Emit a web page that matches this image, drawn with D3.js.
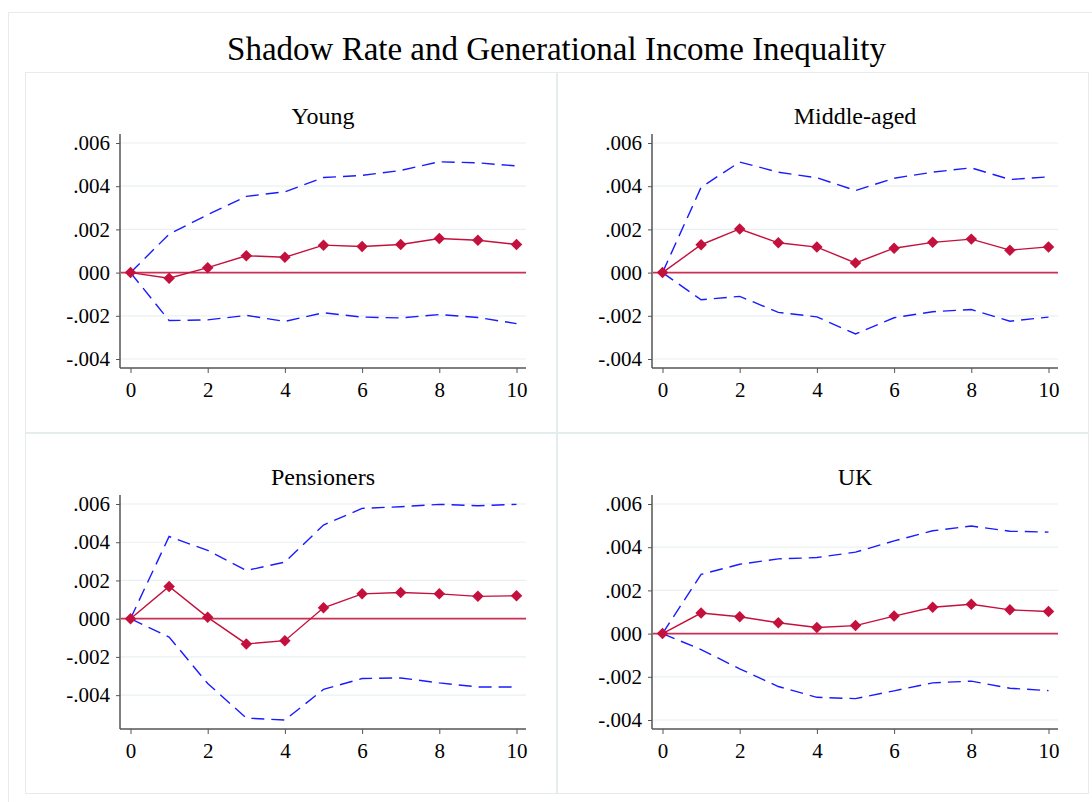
<!DOCTYPE html>
<html>
<head>
<meta charset="utf-8">
<script src="https://cdn.jsdelivr.net/npm/d3@7"></script>
<style>
  body { margin: 0; background: #fff; }
  svg text { font-family: "Liberation Serif", "Times New Roman", serif; fill: #000; }
</style>
</head>
<body>
<div id="chart"></div>
<script>
// response horizon
const steps = [0, 1, 2, 3, 4, 5, 6, 7, 8, 9, 10];

const panelNames = ["Young", "Middle-aged", "Pensioners", "UK"];

const youngIrf   = [0, -0.00026, 0.00023, 0.00078, 0.00071, 0.00127, 0.00121, 0.0013, 0.00158, 0.0015, 0.0013];
const youngUpper = [0, 0.00178, 0.00268, 0.00353, 0.00374, 0.0044, 0.0045, 0.00473, 0.00513, 0.00508, 0.00494];
const youngLower = [0, -0.00222, -0.00219, -0.00198, -0.00226, -0.00186, -0.00206, -0.0021, -0.00194, -0.00208, -0.00236];

const middleIrf   = [0, 0.00129, 0.00202, 0.00138, 0.00118, 0.00045, 0.00113, 0.0014, 0.00155, 0.00104, 0.00119];
const middleUpper = [0, 0.00395, 0.00512, 0.00465, 0.00439, 0.0038, 0.00437, 0.00465, 0.00485, 0.00431, 0.00443];
const middleLower = [0, -0.00126, -0.0011, -0.00184, -0.00205, -0.00284, -0.00209, -0.00181, -0.00171, -0.00225, -0.00206];

const pensIrf   = [0, 0.00169, 0.00007, -0.00132, -0.00115, 0.00057, 0.0013, 0.00137, 0.0013, 0.00117, 0.0012];
const pensUpper = [0, 0.0043, 0.00357, 0.00252, 0.00296, 0.0049, 0.00577, 0.00586, 0.00598, 0.00591, 0.00598];
const pensLower = [0, -0.00096, -0.00339, -0.0052, -0.0053, -0.0037, -0.00313, -0.0031, -0.00336, -0.00357, -0.00357];

const ukIrf   = [0, 0.00095, 0.00078, 0.0005, 0.00028, 0.00037, 0.00081, 0.00122, 0.00136, 0.0011, 0.00102];
const ukUpper = [0, 0.00274, 0.00321, 0.00346, 0.00352, 0.00377, 0.00429, 0.00476, 0.00498, 0.00474, 0.0047];
const ukLower = [0, -0.00074, -0.00163, -0.00245, -0.00295, -0.00301, -0.00265, -0.00228, -0.0022, -0.00253, -0.00264];

const yTicks = [-0.004, -0.002, 0, 0.002, 0.004, 0.006];
const yTickLabels = ["-.004", "-.002", "000", ".002", ".004", ".006"];
const xTicks = [0, 2, 4, 6, 8, 10];

const panels = [
    { name: panelNames[0], irf: youngIrf, hi: youngUpper, lo: youngLower },
    { name: panelNames[1], irf: middleIrf, hi: middleUpper, lo: middleLower },
    { name: panelNames[2], irf: pensIrf, hi: pensUpper, lo: pensLower },
    { name: panelNames[3], irf: ukIrf, hi: ukUpper, lo: ukLower }
];

const width = 1092, height = 802;
const red = "#c4103c", blue = "#1a1aff";
const serif = '"Liberation Serif", "Times New Roman", serif';

const svg = d3.select("#chart").append("svg")
    .attr("width", width)
    .attr("height", height);

svg.append("rect")
    .attr("x", 8.5).attr("y", 12.5)
    .attr("width", 1200).attr("height", 1000)
    .attr("fill", "none")
    .attr("stroke", "#e4ecee");

svg.append("text")
    .attr("x", 556.5)
    .attr("y", 60)
    .attr("text-anchor", "middle")
    .style("font-size", "33px")
    .text("Shadow Rate and Generational Income Inequality");

const panelW = 531, panelH = 360;
const tickLabel = d3.scaleOrdinal().domain(yTicks).range(yTickLabels);

panels.forEach(function(p, i) {
    const px = 25 + (i % 2) * (panelW + 1);
    const py = 72 + Math.floor(i / 2) * (panelH + 1);

    const g = svg.append("g").attr("transform", `translate(${px},${py})`);

    g.append("rect")
        .attr("x", 0.5).attr("y", 0.5)
        .attr("width", panelW).attr("height", panelH)
        .attr("fill", "none")
        .attr("stroke", "#e4ecee");

    const left = 95, right = 501, top = 62, bottom = 296, pad = 9;

    const allVals = p.lo.concat(p.hi, p.irf);
    const yMin = Math.min(d3.min(allVals), yTicks[0]);
    const yMax = Math.max(d3.max(allVals), yTicks[yTicks.length - 1]);

    const x = d3.scaleLinear().domain([0, 10]).range([left + 10.5, right - 9.5]);
    const y = d3.scaleLinear().domain([yMin, yMax]).range([bottom - pad, top + pad]);

    g.append("text")
        .attr("x", (left + right) / 2)
        .attr("y", 52)
        .attr("text-anchor", "middle")
        .style("font-size", "24px")
        .text(p.name);

    // gridlines
    g.selectAll(".grid")
        .data(yTicks)
        .enter().append("line")
        .attr("x1", left).attr("x2", right)
        .attr("y1", d => y(d)).attr("y2", d => y(d))
        .attr("stroke", "#eaf0f2")
        .attr("stroke-width", 1.2);

    // y axis
    const yAxis = g.append("g")
        .attr("transform", `translate(${left},0)`)
        .call(d3.axisLeft(y).tickValues(yTicks).tickFormat(d => tickLabel(d)).tickSize(4).tickPadding(6))
        .attr("font-family", null).attr("font-size", null);
    yAxis.select(".domain").remove();
    yAxis.selectAll("line").attr("stroke", "#555");
    yAxis.selectAll("text").style("font-size", "21px").style("font-family", serif);

    // x axis
    const xAxis = g.append("g")
        .attr("transform", `translate(0,${bottom})`)
        .call(d3.axisBottom(x).tickValues(xTicks).tickSize(5).tickPadding(9))
        .attr("font-family", null).attr("font-size", null);
    xAxis.select(".domain").remove();
    xAxis.selectAll("line").attr("stroke", "#555");
    xAxis.selectAll("text").style("font-size", "21px").style("font-family", serif);

    g.append("line")
        .attr("x1", left).attr("x2", left)
        .attr("y1", top).attr("y2", bottom)
        .attr("stroke", "#555").attr("stroke-width", 1.5);
    g.append("line")
        .attr("x1", left).attr("x2", right)
        .attr("y1", bottom).attr("y2", bottom)
        .attr("stroke", "#555").attr("stroke-width", 1.5);

    // zero line
    g.append("line")
        .attr("x1", left + 1).attr("x2", right)
        .attr("y1", y(0)).attr("y2", y(0))
        .attr("stroke", "#cc2f55")
        .attr("stroke-width", 1.8);

    const line = d3.line()
        .x((d, j) => x(steps[j]))
        .y(d => y(d));

    [p.hi, p.lo].forEach(function(series) {
        g.append("path")
            .datum(series)
            .attr("d", line)
            .attr("fill", "none")
            .attr("stroke", blue)
            .attr("stroke-width", 1.4)
            .attr("stroke-dasharray", "13,7");
    });

    g.append("path")
        .datum(p.irf)
        .attr("d", line)
        .attr("fill", "none")
        .attr("stroke", red)
        .attr("stroke-width", 1.4);

    g.selectAll(".pt")
        .data(p.irf)
        .enter().append("path")
        .attr("d", d3.symbol(d3.symbolSquare, 66))
        .attr("transform", (d, j) => `translate(${x(steps[j])},${y(d)}) rotate(45)`)
        .attr("fill", red);
});
</script>
</body>
</html>
